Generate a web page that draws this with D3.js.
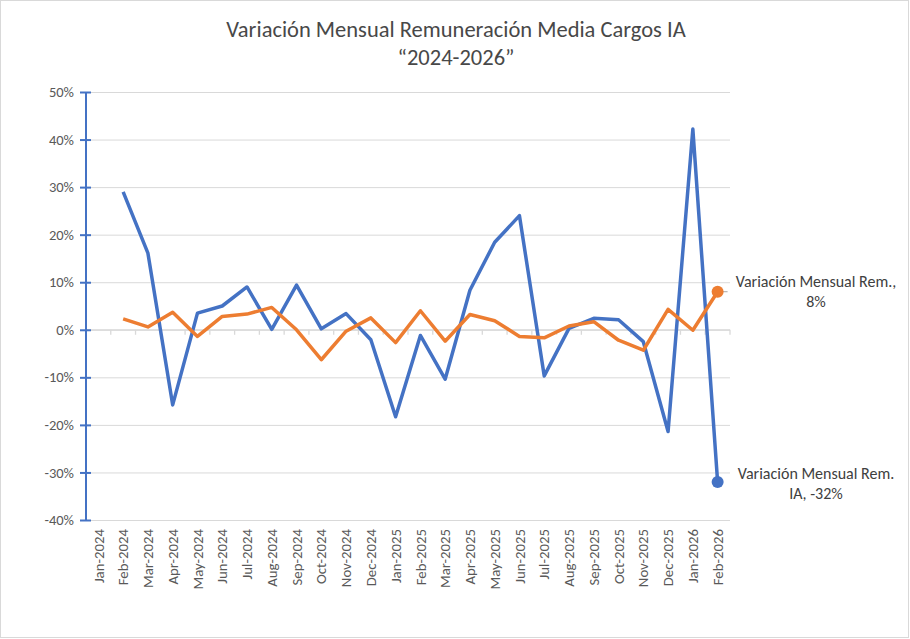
<!DOCTYPE html>
<html>
<head>
<meta charset="utf-8">
<style>
  body { margin: 0; background: #fff; }
  svg { display: block; font-family: Carlito, Calibri, Lato, sans-serif; }
</style>
<script src="https://cdn.jsdelivr.net/npm/d3@7"></script>
</head>
<body>
<svg id="svg" width="910" height="639"></svg>
<script>
  // categories
  var months = ["Jan-2024","Feb-2024","Mar-2024","Apr-2024","May-2024","Jun-2024","Jul-2024","Aug-2024",
    "Sep-2024","Oct-2024","Nov-2024","Dec-2024","Jan-2025","Feb-2025","Mar-2025","Apr-2025","May-2025",
    "Jun-2025","Jul-2025","Aug-2025","Sep-2025","Oct-2025","Nov-2025","Dec-2025","Jan-2026","Feb-2026"];

  // Variación Mensual Rem. IA (blue)
  var remIA = [null, 0.29, 0.161, -0.158, 0.035, 0.050, 0.090, 0.001, 0.094, 0.002, 0.034, -0.021,
    -0.183, -0.012, -0.104, 0.083, 0.184, 0.240, -0.097, 0.003, 0.024, 0.021, -0.025, -0.214, 0.422, -0.32];

  // Variación Mensual Rem. (orange)
  var rem = [null, 0.023, 0.006, 0.037, -0.014, 0.028, 0.033, 0.047, 0.000, -0.063, -0.003, 0.025,
    -0.027, 0.040, -0.024, 0.032, 0.019, -0.014, -0.017, 0.008, 0.017, -0.022, -0.043, 0.043, -0.001, 0.08];

  var yTicks = [-0.4, -0.3, -0.2, -0.1, 0, 0.1, 0.2, 0.3, 0.4, 0.5];

  var svg = d3.select("#svg");
  var pLeft = 86, pRight = 730, pTop = 92, pBottom = 520;

  var x = d3.scaleBand().domain(months).range([pLeft, pRight]);
  var y = d3.scaleLinear().domain([-0.4, 0.5]).range([pBottom, pTop]);
  // plain hyphen for negatives, like the original
  var fmt = d3.formatLocale({ decimal: ".", thousands: ",", grouping: [3], currency: ["", ""], minus: "-" }).format(".0%");

  // chart border
  svg.append("rect").attr("x", 0.5).attr("y", 0.5).attr("width", 908).attr("height", 637)
    .style("fill", "#fff").style("stroke", "#d9d9d9");

  // title
  var title = svg.append("text").attr("text-anchor", "middle").style("fill", "#484848").style("font-size", "22.5px");
  title.append("tspan").attr("x", 456).attr("y", 37).text("Variación Mensual Remuneración Media Cargos IA");
  title.append("tspan").attr("x", 456).attr("y", 65).text("\u201C2024-2026\u201D");

  // gridlines
  svg.append("g").attr("transform", "translate(" + pLeft + ",0)")
    .call(d3.axisLeft(y).tickValues(yTicks).tickSize(-(pRight - pLeft)).tickFormat(""))
    .call(function(g){ g.select(".domain").remove(); })
    .selectAll("line").style("stroke", "#d9d9d9").style("stroke-width", 1);

  // x axis at zero
  var xg = svg.append("g").attr("transform", "translate(0," + y(0) + ")");
  xg.append("line").attr("x1", pLeft).attr("x2", pRight).style("stroke", "#d9d9d9").style("stroke-width", 1.3);
  xg.selectAll("line.tick").data(months.concat(["end"])).enter().append("line")
    .attr("class", "tick")
    .attr("x1", function(d, i){ return pLeft + i * x.step(); })
    .attr("x2", function(d, i){ return pLeft + i * x.step(); })
    .attr("y1", 0).attr("y2", 5)
    .style("stroke", "#d9d9d9").style("stroke-width", 1.3);

  // x labels at bottom
  svg.append("g").selectAll("text").data(months).enter().append("text")
    .attr("transform", function(d){ return "translate(" + (x(d) + x.bandwidth() / 2) + "," + (pBottom + 9) + ") rotate(-90)"; })
    .attr("text-anchor", "end").attr("dy", "0.35em")
    .style("fill", "#595959").style("font-size", "14.8px")
    .text(function(d){ return d; });

  // y axis
  var yg = svg.append("g").attr("transform", "translate(" + pLeft + ",0)")
    .call(d3.axisLeft(y).tickValues(yTicks).tickSize(6).tickPadding(6).tickFormat(fmt));
  yg.select(".domain").attr("d", "M0," + pTop + "V" + pBottom).style("stroke", "#4472c4").style("stroke-width", 2);
  yg.selectAll(".tick line").attr("x1", 5).attr("x2", -6).style("stroke", "#4472c4").style("stroke-width", 2);
  yg.selectAll(".tick text").style("fill", "#595959").style("font-size", "14.5px").style("font-family", "Carlito, Calibri, Lato, sans-serif");

  // series lines
  var series = [
    { name: "Variación Mensual Rem. IA", values: remIA, color: "#4472c4" },
    { name: "Variación Mensual Rem.", values: rem, color: "#ed7d31" }
  ];

  var line = d3.line()
    .defined(function(d){ return d.v !== null; })
    .x(function(d){ return x(d.m) + x.bandwidth() / 2; })
    .y(function(d){ return y(d.v); });

  series.forEach(function(s){
    var pts = months.map(function(m, i){ return { m: m, v: s.values[i] }; });
    svg.append("path").datum(pts).attr("d", line)
      .style("fill", "none").style("stroke", s.color).style("stroke-width", 3.5)
      .style("stroke-linejoin", "round");
    var last = pts[pts.length - 1];
    s.cx = x(last.m) + x.bandwidth() / 2;
    s.cy = y(last.v);
    s.last = last.v;
    svg.append("circle").attr("cx", s.cx).attr("cy", s.cy).attr("r", 6).style("fill", s.color);
  });

  // data labels on last points
  var lab = svg.append("g").style("fill", "#404040").style("font-size", "16px");
  var o = series[1], b = series[0];
  svg.insert("line", "circle").attr("x1", o.cx).attr("x2", o.cx + 10).attr("y1", o.cy).attr("y2", o.cy)
    .style("stroke", "#a6a6a6").style("stroke-width", 1);
  var t1 = lab.append("text").attr("text-anchor", "middle");
  t1.append("tspan").attr("x", 816).attr("y", o.cy - 5).text(o.name + ",");
  t1.append("tspan").attr("x", 816).attr("y", o.cy + 15).text(fmt(o.last));
  var t2 = lab.append("text").attr("text-anchor", "middle");
  t2.append("tspan").attr("x", 816).attr("y", b.cy - 3).text(b.name.replace(" IA", ""));
  t2.append("tspan").attr("x", 816).attr("y", b.cy + 17).text("IA, " + fmt(b.last));
</script>
</body>
</html>
